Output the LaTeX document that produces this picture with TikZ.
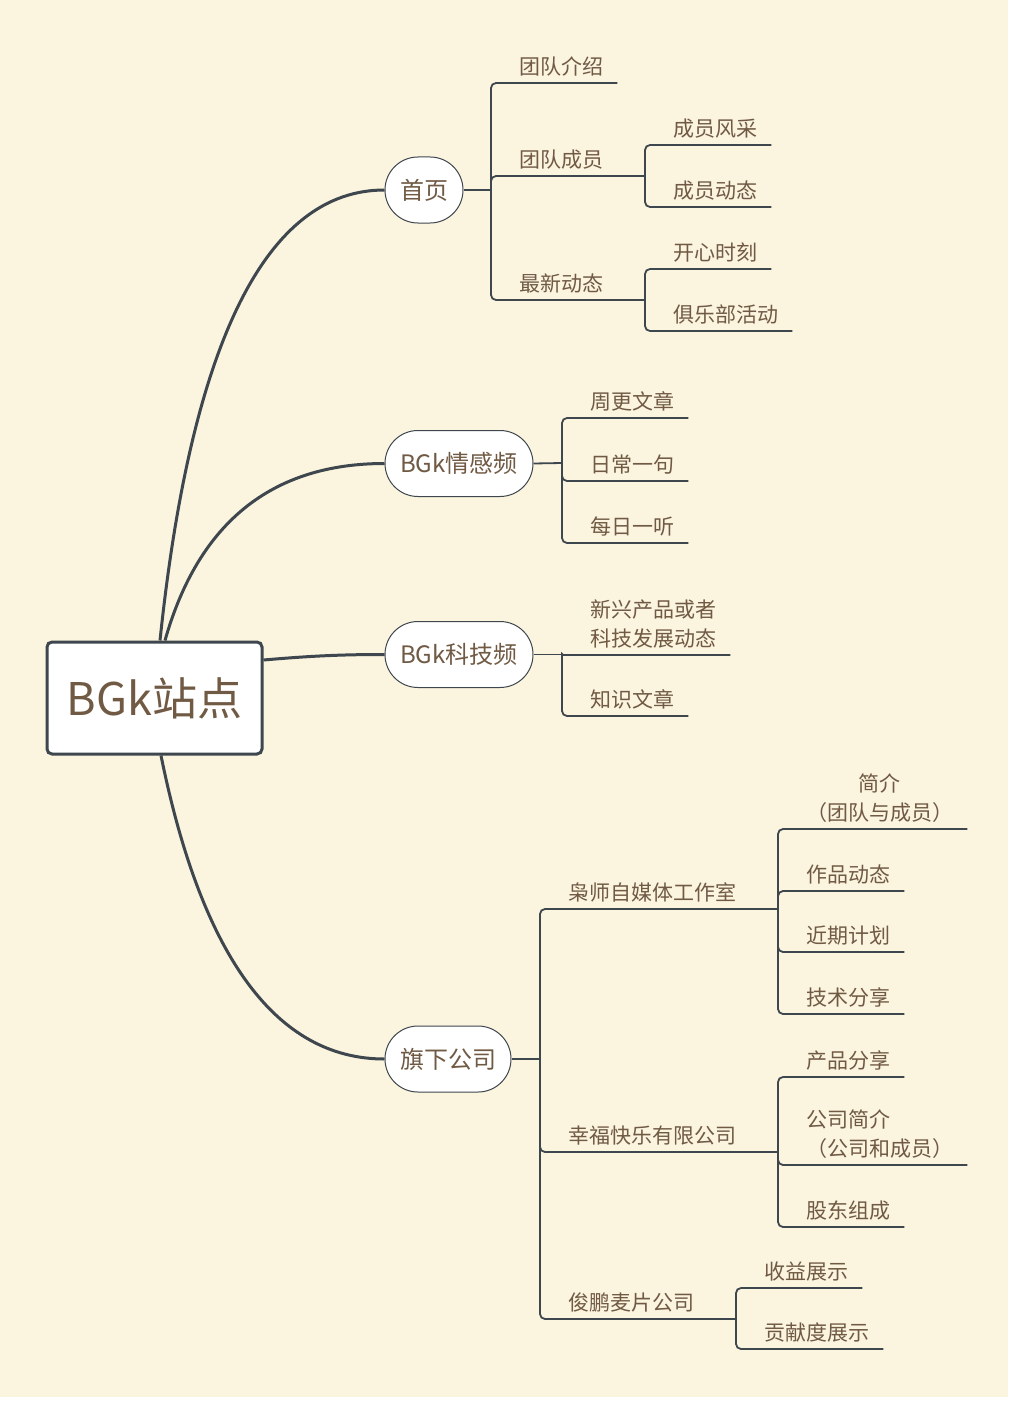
\documentclass[tikz,border=0pt]{standalone}
\usepackage{fontspec}
\setmainfont{Noto Sans CJK SC}
\usetikzlibrary{calc}
\definecolor{bgc}{HTML}{FBF4DF}
\definecolor{lc}{HTML}{3E464E}
\definecolor{tc}{HTML}{705A44}
\begin{document}
\begin{tikzpicture}[x=1pt,y=-1pt,
  rootbox/.style={draw=lc, line width=3pt, fill=white, rounded corners=5pt, minimum width=215pt, minimum height=112pt, inner sep=0pt, font=\fontsize{45}{54}\selectfont, text=tc},
  topic/.style={draw=lc, line width=1pt, fill=white, rounded corners=33pt, minimum height=66pt, inner sep=0pt, font=\fontsize{24}{29}\selectfont, text=tc},
  leaf/.style={anchor=south west, inner xsep=14pt, inner ysep=6.5pt, font=\fontsize{21}{29}\selectfont, text=tc},
  mainline/.style={draw=lc, line width=3pt},
  subline/.style={draw=lc, line width=1.8pt, rounded corners=5pt}]
\useasboundingbox (0,0) rectangle (1014,1407);
\fill[white] (0,0) rectangle (1014,1407);
\fill[bgc] (0,0) rectangle (1008,1397);

% root and topics
\node[rootbox] (root) at (154.5,698) {BGk站点};
\node[topic, minimum width=78pt] (t1) at (424,190) {首页};
\node[topic, minimum width=148pt] (t2) at (459,463.5) {BGk情感频};
\node[topic, minimum width=148pt] (t3) at (459,654.5) {BGk科技频};
\node[topic, minimum width=126pt] (t4) at (448,1059) {旗下公司};

\draw[mainline] ($(root.north)+(5.5,0)$) .. controls (191.3,341.3) and (266.3,190) .. (t1.west);
\draw[mainline] ($(root.north)+(10.5,0)$) .. controls (198.3,522.7) and (271.7,463.5) .. (t2.west);
\draw[mainline] ($(root.east)+(0,-38)$) .. controls (310,656) and (340,654.5) .. (t3.west);
\draw[mainline] ($(root.south)+(6.5,0)$) .. controls (201.7,956.7) and (276.3,1059) .. (t4.west);

% 首页
\node[leaf] (a1) at (505,83) {团队介绍};
\node[leaf] (a2) at (505,176) {团队成员};
\node[leaf] (a3) at (505,300) {最新动态};
\node[leaf] (a21) at (659,145) {成员风采};
\node[leaf] (a22) at (659,207) {成员动态};
\node[leaf] (a31) at (659,269) {开心时刻};
\node[leaf] (a32) at (659,331) {俱乐部活动};
\coordinate (J1) at (491,190);
\coordinate (J12) at (645,176);
\coordinate (J13) at (645,300);
\draw[subline] (t1.east) -- (J1);
\draw[subline] (J1) |- (a1.south east);
\draw[subline] (J1) |- (a2.south east);
\draw[subline] (J1) |- (a3.south east);
\draw[subline] (a2.south east) -- (J12);
\draw[subline] (J12) |- (a21.south east);
\draw[subline] (J12) |- (a22.south east);
\draw[subline] (a3.south east) -- (J13);
\draw[subline] (J13) |- (a31.south east);
\draw[subline] (J13) |- (a32.south east);

% BGk情感频
\node[leaf] (b1) at (576,418) {周更文章};
\node[leaf] (b2) at (576,481) {日常一句};
\node[leaf] (b3) at (576,543) {每日一听};
\coordinate (J2) at (562,463);
\draw[subline] (t2.east) -- (J2);
\draw[subline] (J2) |- (b1.south east);
\draw[subline] (J2) |- (b2.south east);
\draw[subline] (J2) |- (b3.south east);

% BGk科技频
\node[leaf, align=left] (c1) at (576,655) {新兴产品或者\\科技发展动态};
\node[leaf] (c2) at (576,716) {知识文章};
\coordinate (J3) at (562,654.5);
\draw[subline] (t3.east) -- (J3);
\draw[subline, rounded corners=1pt] (J3) |- (c1.south east);
\draw[subline] (J3) |- (c2.south east);

% 旗下公司
\node[leaf] (d1) at (554,909) {枭师自媒体工作室};
\node[leaf] (d2) at (554,1152) {幸福快乐有限公司};
\node[leaf] (d3) at (554,1319) {俊鹏麦片公司};
\node[leaf, align=center] (d11) at (792,829) {简介\\（团队与成员）};
\node[leaf] (d12) at (792,891) {作品动态};
\node[leaf] (d13) at (792,952) {近期计划};
\node[leaf] (d14) at (792,1014) {技术分享};
\node[leaf] (d21) at (792,1077) {产品分享};
\node[leaf, align=left] (d22) at (792,1165) {公司简介\\（公司和成员）};
\node[leaf] (d23) at (792,1227) {股东组成};
\node[leaf] (d31) at (750,1288) {收益展示};
\node[leaf] (d32) at (750,1349) {贡献度展示};
\coordinate (J4) at (540,1059);
\coordinate (J41) at (778,909);
\coordinate (J42) at (778,1152);
\coordinate (J43) at (736,1319);
\draw[subline] (t4.east) -- (J4);
\draw[subline] (J4) |- (d1.south east);
\draw[subline] (J4) |- (d2.south east);
\draw[subline] (J4) |- (d3.south east);
\draw[subline] (d1.south east) -- (J41);
\draw[subline] (J41) |- (d11.south east);
\draw[subline] (J41) |- (d12.south east);
\draw[subline] (J41) |- (d13.south east);
\draw[subline] (J41) |- (d14.south east);
\draw[subline] (d2.south east) -- (J42);
\draw[subline] (J42) |- (d21.south east);
\draw[subline] (J42) |- (d22.south east);
\draw[subline] (J42) |- (d23.south east);
\draw[subline] (d3.south east) -- (J43);
\draw[subline] (J43) |- (d31.south east);
\draw[subline] (J43) |- (d32.south east);
\end{tikzpicture}
\end{document}
